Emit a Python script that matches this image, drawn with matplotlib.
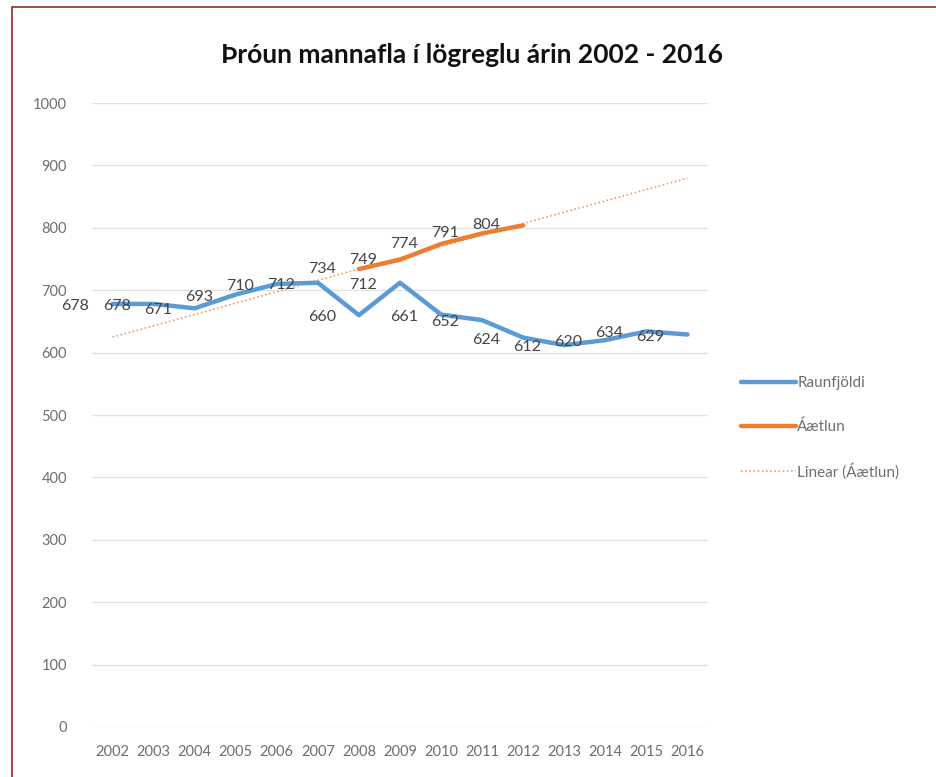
import numpy as np
import matplotlib.pyplot as plt
from matplotlib.patches import Rectangle

years = ['2002', '2003', '2004', '2005', '2006', '2007', '2008', '2009',
         '2010', '2011', '2012', '2013', '2014', '2015', '2016']
raunfjoldi = [678, 678, 671, 693, 710, 712, 660, 712, 661, 652, 624, 612, 620, 634, 629]
aaetlun_years = ['2008', '2009', '2010', '2011', '2012']
aaetlun = [734, 749, 774, 791, 804]
yticks = [0, 100, 200, 300, 400, 500, 600, 700, 800, 900, 1000]

blue = '#5B9BD5'
orange = '#ED7D31'
grey = '#6E6E6E'
plt.rcParams['font.family'] = ['Lato', 'DejaVu Sans']

fig = plt.figure(figsize=(9.37, 7.77), dpi=100)
ax = fig.add_axes([92 / 937, 1 - 727 / 777, (708 - 92) / 937, (727 - 103) / 777])

x = np.arange(len(years))
xa = np.array([years.index(y) for y in aaetlun_years])

# Excel-style linear trendline on the forecast, extended over all years
k, m = np.polyfit(xa + 1, aaetlun, 1)
trend = k * (x + 1) + m

ax.plot(x, raunfjoldi, color=blue, lw=3.2, label='Raunfjöldi', solid_capstyle='round', zorder=3)
ax.plot(xa, aaetlun, color=orange, lw=3.2, label='Áætlun', solid_capstyle='round', zorder=3)
ax.plot(x, trend, color=orange, lw=1.2, ls=(0, (1, 1.5)), alpha=0.75, label='Linear (Áætlun)', zorder=2)

for xi, v in zip(x, raunfjoldi):
    ax.annotate(str(v), (xi, v), xytext=(-37, -2), textcoords='offset pixels',
                ha='center', va='center', fontsize=11.5, color='#454545', zorder=4)
for xi, v in zip(xa, aaetlun):
    ax.annotate(str(v), (xi, v), xytext=(-37, 0), textcoords='offset pixels',
                ha='center', va='center', fontsize=11.5, color='#454545', zorder=4)

ax.set_xlim(-0.5, len(years) - 0.5)
ax.set_ylim(0, 1000)
ax.set_yticks(yticks)
ax.set_xticks(x)
ax.set_xticklabels(years)
ax.tick_params(axis='both', length=0, labelcolor=grey)
ax.tick_params(axis='x', pad=13, labelsize=10.5)
ax.tick_params(axis='y', pad=18, labelsize=10.5)
ax.grid(axis='y', color='#E3E3E3', lw=1)
ax.set_axisbelow(True)
for s in ax.spines.values():
    s.set_visible(False)

fig.text(472 / 937, 1 - 55 / 777, 'Þróun mannafla í lögreglu árin 2002 - 2016',
         ha='center', va='center', fontsize=19, fontweight='bold', color='#111111')

leg = ax.legend(loc='center left', bbox_to_anchor=(727 / 937, 1 - 428 / 777),
                bbox_transform=fig.transFigure, frameon=False, fontsize=11,
                handlelength=3.6, handletextpad=0.1, labelspacing=1.9)
for t in leg.get_texts():
    t.set_color(grey)

# dark red frame of the original screenshot
fig.patches.append(Rectangle((12 / 937, -0.1), 1.2, 1 - 7 / 777 + 0.1,
                             transform=fig.transFigure, fill=False,
                             edgecolor='#8B2E2E', lw=1.2))

plt.savefig('out.png', dpi=100)
